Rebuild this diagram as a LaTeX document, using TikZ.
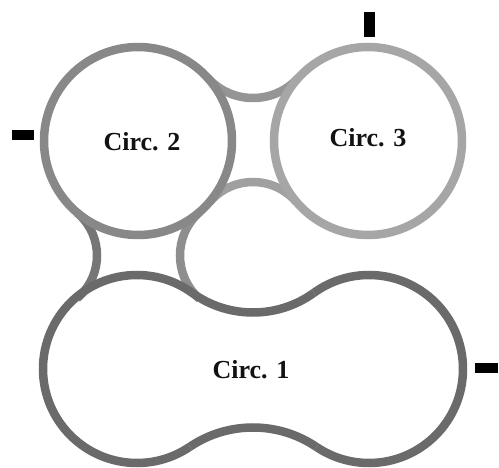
\documentclass[tikz,border=0pt]{standalone}
\usepackage{fontspec}
\setmainfont{Liberation Serif}
\usetikzlibrary{calc}
\definecolor{cone}{HTML}{6A6A6A}
\definecolor{ctwo}{HTML}{888888}
\definecolor{cthree}{HTML}{A6A6A6}
\definecolor{ctop}{HTML}{959595}
\definecolor{cbot}{HTML}{A0A0A0}
\definecolor{csqleft}{HTML}{767676}
\definecolor{csqright}{HTML}{8E8E8E}
\begin{document}
\begin{tikzpicture}[x=1pt,y=-1pt,
  ring/.style={line width=8.5pt},
  lbl/.style={font=\fontsize{26}{30}\selectfont\bfseries, text=black!93},
  term/.style={fill=black}]
\useasboundingbox (0,0) rectangle (499,468);
\fill[white] (0,0) rectangle (499,468);

% centres
\coordinate (C2) at (138,141);
\coordinate (C3) at (368,141);
\coordinate (L1) at (137,369);
\coordinate (L2) at (369,369);
\coordinate (Ft) at (253,37);     % r 61
\coordinate (Fb) at (253,239);    % r 57
\coordinate (Fl) at (41,255.5);   % r 56
\coordinate (Fr) at (238,255.5);  % r 58
\coordinate (Nt) at (253,208.5);  % r 104
\coordinate (Nb) at (253,540.5);  % r 113

% fillets between circ. 2 and circ. 3
\begin{scope}
  \clip (C2) -- (Ft) -- (C3) -- cycle;
  \draw[ring, ctop] (Ft) circle[radius=61];
\end{scope}
\begin{scope}
  \clip (C2) -- (Fb) -- (C3) -- cycle;
  \draw[ring, cbot] (Fb) circle[radius=57];
\end{scope}
% fillets between circ. 2 and circ. 1
\begin{scope}
  \clip (C2) -- (Fl) -- (L1) -- cycle;
  \draw[ring, csqleft] (Fl) circle[radius=56];
\end{scope}
\begin{scope}
  \clip (C2) -- (Fr) -- (L1) -- cycle;
  \draw[ring, csqright] (Fr) circle[radius=58];
\end{scope}

% circ. 1 outline
\begin{scope}
  \clip (Nt) -- (L1) -- (Nb) -- (-50,600) -- (-50,150) -- (253,150) -- cycle;
  \draw[ring, cone] (L1) circle[radius=94];
\end{scope}
\begin{scope}
  \clip (Nt) -- (L2) -- (Nb) -- (560,600) -- (560,150) -- (253,150) -- cycle;
  \draw[ring, cone] (L2) circle[radius=94];
\end{scope}
\begin{scope}
  \clip (L1) -- (Nt) -- (L2) -- cycle;
  \draw[ring, cone] (Nt) circle[radius=104];
\end{scope}
\begin{scope}
  \clip (L1) -- (Nb) -- (L2) -- cycle;
  \draw[ring, cone] (Nb) circle[radius=113];
\end{scope}

% circ. 2 and circ. 3
\draw[ring, ctwo] (C2) circle[radius=94];
\draw[ring, cthree] (C3) circle[radius=94];

% labels
\node[lbl] (t2) at (142,142) {Circ. 2};
\node[lbl] (t3) at (368,137.5) {Circ. 3};
\node[lbl] (t1) at (251,369.5) {Circ. 1};

% terminals
\fill[term] (11.5,130) rectangle (33.5,140.5);
\fill[term] (364,12) rectangle (375,37);
\fill[term] (475,363) rectangle (498,373.5);
\end{tikzpicture}
\end{document}
